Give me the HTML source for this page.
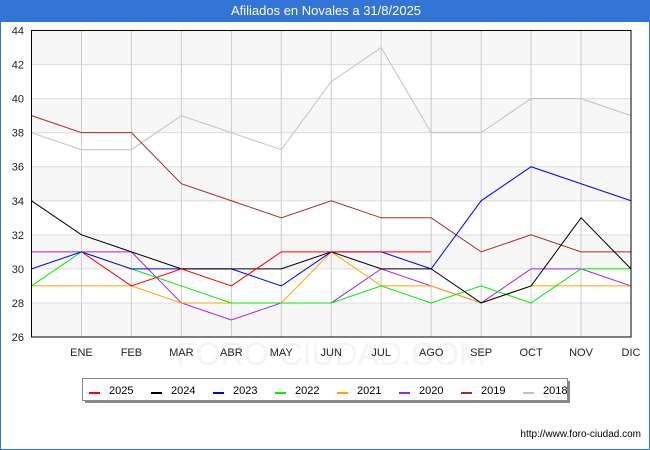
<!DOCTYPE html>
<html><head><meta charset="utf-8"><style>
body{margin:0;background:#fff;font-family:"Liberation Sans","DejaVu Sans",sans-serif}
#wrap{position:relative;width:650px;height:450px;box-sizing:border-box;border:1px solid #3375d6;border-top:none}
#title{position:absolute;left:0;top:0;width:650px;height:22px;background:#3375d6;color:#fff;font-size:13px;line-height:22px;text-align:center}
</style></head><body>
<div id="wrap">
<div id="title">Afiliados en Novales a 31/8/2025</div>
<svg id="svg" width="650" height="450" style="position:absolute;left:0;top:0"></svg>
</div>
<script>
const months=["","ENE","FEB","MAR","ABR","MAY","JUN","JUL","AGO","SEP","OCT","NOV","DIC"];
const yTicks=[26,28,30,32,34,36,38,40,42,44];
const seriesNames=["2025","2024","2023","2022","2021","2020","2019","2018"];
const seriesColors=["#ff0000","#000000","#0000ff","#00ee00","#ffa500","#a020f0","#a52a2a","#c0c0c0"];
const s2025=[null,31,29,30,29,31,31,31,31];
const s2024=[34,32,31,30,30,30,31,30,30,28,29,33,30];
const s2023=[30,31,30,30,30,29,31,31,30,34,36,35,34];
const s2022=[29,31,30,29,28,28,28,29,28,29,28,30,30];
const s2021=[29,29,29,28,28,28,31,29,29,28,29,29,29];
const s2020=[31,31,31,28,27,28,28,30,29,28,30,30,29];
const s2019=[39,38,38,35,34,33,34,33,33,31,32,31,31];
const s2018=[38,37,37,39,38,37,41,43,38,38,40,40,39];
const allSeries=[s2025,s2024,s2023,s2022,s2021,s2020,s2019,s2018];
const L=30.5,R=630,T=30.5,B=337;
const xs=i=>L+i*(R-L)/12;
const ys=v=>B-(v-26)*(B-T)/18;
const svg=document.getElementById('svg');
const NS="http://www.w3.org/2000/svg";
function mk(t,a,p){const e=document.createElementNS(NS,t);for(const k in a)e.setAttribute(k,a[k]);(p||svg).appendChild(e);return e;}
for(let v=26;v<44;v+=4){const r=mk('rect',{x:L,y:ys(v+2),width:R-L,height:ys(v)-ys(v+2),fill:'#f7f7f7'});

}
const wm=mk('text',{x:330,y:365,'text-anchor':'middle','font-size':'32',fill:'#f3f4f9'});wm.textContent='FORO-CIUDAD.COM';


yTicks.forEach(v=>{const l=mk('line',{x1:L,x2:R,y1:ys(v),y2:ys(v),stroke:'#dddddd'});


const t=mk('text',{x:23,y:ys(v)+4,'text-anchor':'end','font-size':'11',fill:'#222'});t.textContent=v;

});
months.forEach((m,i)=>{if(i>0){const l=mk('line',{x1:xs(i),x2:xs(i),y1:T,y2:B,stroke:'#cccccc'});

}
if(m){const t=mk('text',{x:xs(i),y:356,'text-anchor':'middle','font-size':'11',fill:'#222'});t.textContent=m;

}});
for(let k=allSeries.length-1;k>=0;k--){const d=allSeries[k];const pts=[];d.forEach((v,i)=>{if(v!=null)pts.push(xs(i)+','+ys(v));});
const p=mk('polyline',{points:pts.join(' '),fill:'none',stroke:seriesColors[k],'stroke-width':'1'});

}
const ax=mk('rect',{x:L,y:T,width:R-L,height:B-T,fill:'none',stroke:'#000','stroke-width':'1'});


const g=mk('g',{});
mk('rect',{x:84,y:381,width:485,height:22,fill:'#888'},g);
mk('rect',{x:81.5,y:378.5,width:485,height:22,fill:'#fff',stroke:'#888'},g);
seriesNames.forEach((n,k)=>{const x0=88+k*62;
mk('line',{x1:x0,x2:x0+11,y1:393,y2:393,stroke:seriesColors[k],'stroke-width':'2'},g);
const t=mk('text',{x:x0+20,y:394,'font-size':'11',fill:'#000'},g);t.textContent=n;

});
const u=mk('text',{x:640,y:437,'text-anchor':'end','font-size':'10',fill:'#000'});u.textContent='http://www.foro-ciudad.com';


</script>
</body></html>
